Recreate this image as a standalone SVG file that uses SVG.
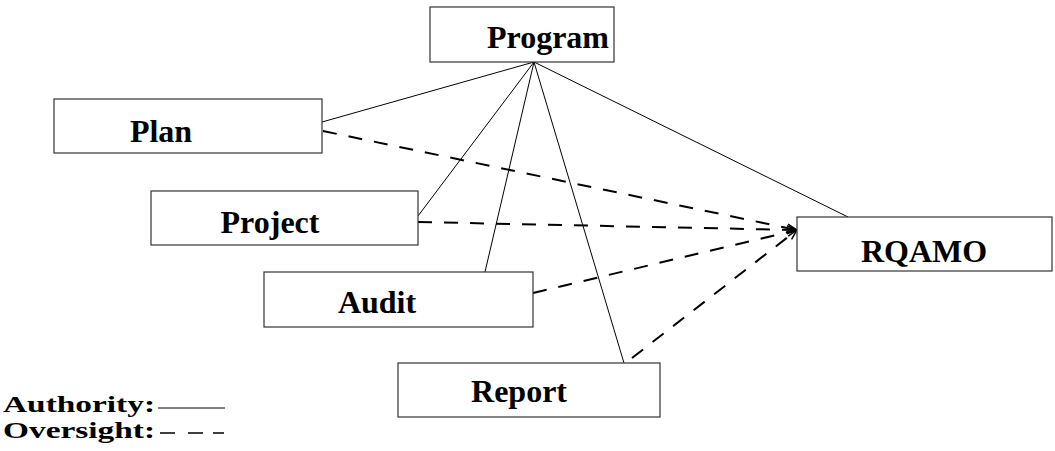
<svg xmlns="http://www.w3.org/2000/svg" width="1055" height="451" viewBox="0 0 1055 451">
<style>
.box{fill:#fff;stroke:#333;stroke-width:1.2}
.lbl{font-family:"Liberation Serif","Times New Roman",serif;font-weight:bold;font-size:32px;fill:#000;text-anchor:middle}
.leg{font-family:"Liberation Serif","Times New Roman",serif;font-weight:bold;font-size:24px;fill:#000}
.auth{stroke:#000;stroke-width:1;fill:none}
.over{stroke:#000;stroke-width:2;fill:none;stroke-dasharray:14 12}
</style>
<defs>
<marker id="ah" markerWidth="12" markerHeight="10" refX="11" refY="5" orient="auto" markerUnits="userSpaceOnUse">
<path d="M1,1 L11,5 L1,9" fill="none" stroke="#000" stroke-width="1.5"/>
</marker>
</defs>
<g id="connectors">
<line class="auth" x1="534" y1="62" x2="322" y2="122"/>
<line class="auth" x1="534" y1="62" x2="418" y2="216"/>
<line class="auth" x1="534" y1="62" x2="485" y2="272"/>
<line class="auth" x1="534" y1="62" x2="624" y2="363"/>
<line class="auth" x1="534" y1="62" x2="848" y2="217"/>
<line class="over" x1="323" y1="131" x2="797" y2="230" marker-end="url(#ah)"/>
<line class="over" x1="418" y1="222" x2="797" y2="230" marker-end="url(#ah)"/>
<line class="over" x1="533" y1="293" x2="797" y2="230" marker-end="url(#ah)"/>
<line class="over" x1="632" y1="358" x2="797" y2="230" marker-end="url(#ah)"/>
</g>
<g id="program"><rect class="box" x="430" y="7" width="184" height="55"/><text class="lbl" x="548" y="48">Program</text></g>
<g id="plan"><rect class="box" x="54" y="99" width="268" height="54"/><text class="lbl" x="161" y="142">Plan</text></g>
<g id="project"><rect class="box" x="151" y="191" width="267" height="54"/><text class="lbl" x="270" y="233">Project</text></g>
<g id="audit"><rect class="box" x="264" y="272" width="269" height="55"/><text class="lbl" x="377" y="313">Audit</text></g>
<g id="report"><rect class="box" x="398" y="363" width="262" height="54"/><text class="lbl" x="519" y="402">Report</text></g>
<g id="rqamo"><rect class="box" x="797" y="217" width="255" height="54"/><text class="lbl" x="924" y="262">RQAMO</text></g>
<g id="legend">
<text class="leg" x="3" y="412" textLength="152" lengthAdjust="spacingAndGlyphs">Authority:</text>
<line class="auth" x1="158" y1="408" x2="225" y2="408"/>
<text class="leg" x="3" y="438" textLength="152" lengthAdjust="spacingAndGlyphs">Oversight:</text>
<path d="M160,433 H175 M188,433 H203 M213,433 H224" stroke="#000" stroke-width="1.5" fill="none"/>
</g>
</svg>
